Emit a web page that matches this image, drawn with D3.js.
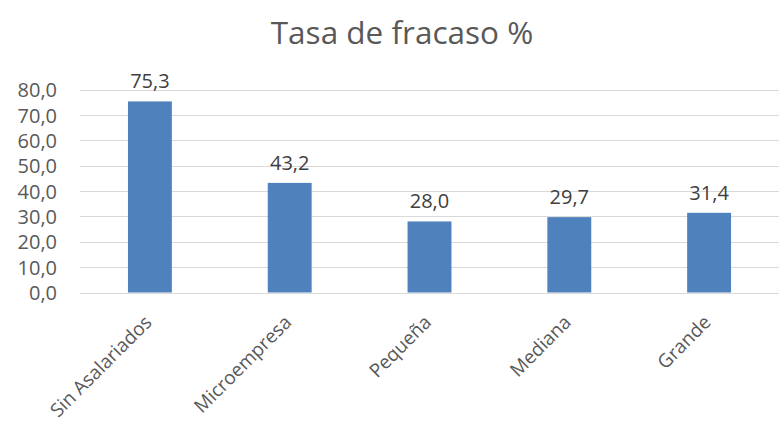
<!DOCTYPE html>
<html><head><meta charset="utf-8">
<script src="https://cdn.jsdelivr.net/npm/d3@7"></script>
<style>body{margin:0;background:#fff}svg{display:block}</style>
</head><body>
<script>
const categories = ["Sin Asalariados","Microempresa","Pequeña","Mediana","Grande"];
const values = [75.3, 43.2, 28.0, 29.7, 31.4];
const yTicks = [0,10,20,30,40,50,60,70,80];
const title = "Tasa de fracaso %";

const W = 779, H = 423;
const margin = {left:80, right:0, top:89.5, bottom:130.5};
const fmt = v => v.toFixed(1).replace(".", ",");
const font = "'Open Sans', sans-serif";

const svg = d3.select("body").append("svg").attr("width", W).attr("height", H);

const x = d3.scaleBand().domain(categories).range([margin.left, W - margin.right]).paddingInner(0.686).paddingOuter(0.343);
const y = d3.scaleLinear().domain([0,80]).range([H - margin.bottom, margin.top]);

svg.append("text").attr("x", 402).attr("y", 44).attr("text-anchor","middle")
  .attr("font-family", font).attr("font-size", 31.5).attr("fill","#595959").text(title);

// gridlines
svg.append("g").selectAll("line").data(yTicks).join("line")
  .attr("x1", margin.left).attr("x2", W)
  .attr("y1", d => Math.round(y(d)) + 0.5).attr("y2", d => Math.round(y(d)) + 0.5)
  .attr("stroke", "#d9d9d9").attr("stroke-width", 1);

// y axis labels
const yAxis = d3.axisLeft(y).tickValues(yTicks).tickFormat(fmt).tickSize(0).tickPadding(0);
const gy = svg.append("g").attr("transform", `translate(57,0)`).call(yAxis);
gy.select(".domain").remove();
gy.selectAll("text").attr("font-family", font).attr("font-size", 20).attr("fill", "#595959").attr("dy","0.36em");

// bars
svg.append("g").selectAll("rect").data(values).join("rect")
  .attr("x", (d,i) => x(categories[i])).attr("width", x.bandwidth())
  .attr("y", d => y(d)).attr("height", d => y(0) - y(d))
  .attr("fill", "#4f81bd");

// data labels
svg.append("g").selectAll("text").data(values).join("text")
  .attr("x", (d,i) => x(categories[i]) + x.bandwidth()/2)
  .attr("y", d => y(d) - 13)
  .attr("text-anchor","middle").attr("font-family", font).attr("font-size", 20).attr("fill","#404040")
  .text(fmt);

// category labels
const xAxis = d3.axisBottom(x).tickSize(0).tickPadding(0);
const gx = svg.append("g").attr("transform", `translate(0,${y(0)})`).call(xAxis);
gx.select(".domain").remove();
gx.selectAll("text")
  .attr("font-family", font).attr("font-size", 19).attr("fill", "#595959")
  .attr("text-anchor","end").attr("dy", null).attr("y", null)
  .attr("transform", "translate(3,31) rotate(-45)");
</script>
</body></html>
